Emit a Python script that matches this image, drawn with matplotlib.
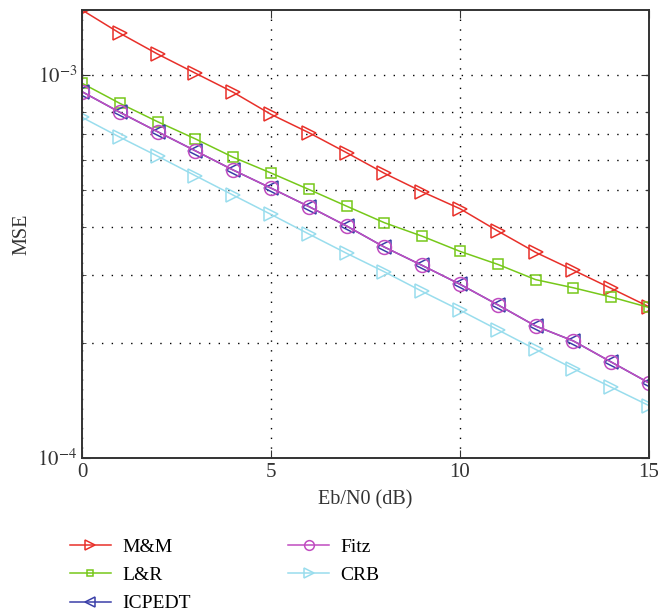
import numpy as np
import matplotlib
matplotlib.use('Agg')
import matplotlib.pyplot as plt
from matplotlib.ticker import FixedLocator, NullFormatter, FixedFormatter

plt.rcParams['font.family'] = ['Liberation Serif', 'DejaVu Serif']
plt.rcParams['mathtext.fontset'] = 'stix'

# Eb/N0 values (dB)
ebn0 = np.arange(0, 16)

# MSE curves
mse_mm = [1.475e-3, 1.283e-3, 1.132e-3, 1.009e-3, 9.00e-4, 7.88e-4, 7.06e-4, 6.26e-4,
          5.53e-4, 4.95e-4, 4.47e-4, 3.91e-4, 3.44e-4, 3.09e-4, 2.77e-4, 2.48e-4]
mse_lr = [9.50e-4, 8.42e-4, 7.54e-4, 6.80e-4, 6.09e-4, 5.54e-4, 5.02e-4, 4.54e-4,
          4.11e-4, 3.79e-4, 3.46e-4, 3.20e-4, 2.92e-4, 2.78e-4, 2.63e-4, 2.47e-4]
mse_icpedt = [9.03e-4, 7.98e-4, 7.10e-4, 6.33e-4, 5.64e-4, 5.06e-4, 4.53e-4, 4.03e-4,
              3.55e-4, 3.18e-4, 2.84e-4, 2.51e-4, 2.21e-4, 2.02e-4, 1.78e-4, 1.57e-4]
mse_fitz = [9.03e-4, 7.98e-4, 7.10e-4, 6.33e-4, 5.64e-4, 5.06e-4, 4.53e-4, 4.03e-4,
            3.55e-4, 3.18e-4, 2.84e-4, 2.51e-4, 2.21e-4, 2.02e-4, 1.78e-4, 1.57e-4]
mse_crb = [7.74e-4, 6.87e-4, 6.13e-4, 5.45e-4, 4.85e-4, 4.32e-4, 3.84e-4, 3.42e-4,
           3.06e-4, 2.72e-4, 2.43e-4, 2.16e-4, 1.92e-4, 1.71e-4, 1.53e-4, 1.37e-4]

fig = plt.figure(figsize=(6.58, 6.16), dpi=100)
ax = fig.add_axes([82/658, 1-458/616, (649-82)/658, (458-10)/616])

ax.plot(ebn0, mse_mm, color='#e8302a', lw=1.1, marker='>', ms=10, mfc='none', mew=1.1, label='M&M')
ax.plot(ebn0, mse_lr, color='#76c81a', lw=1.1, marker='s', ms=7, mfc='none', mew=1.1, label='L&R')
ax.plot(ebn0, mse_icpedt, color='#3a3fa8', lw=1.1, marker='<', ms=10, mfc='none', mew=1.1, label='ICPEDT')
ax.plot(ebn0, mse_fitz, color='#c04cc0', lw=1.1, marker='o', ms=10, mfc='none', mew=1.1, label='Fitz')
ax.plot(ebn0, mse_crb, color='#99dded', lw=1.1, marker='>', ms=10, mfc='none', mew=1.1, label='CRB')

ax.set_yscale('log')
ax.set_xlim(0, 15)
ax.set_ylim(1e-4, 1.475e-3)
ax.set_xticks([0, 5, 10, 15])
ax.yaxis.set_major_locator(FixedLocator([1e-4, 1e-3]))
ax.yaxis.set_major_formatter(FixedFormatter([r'$10^{-4}$', r'$10^{-3}$']))
ax.yaxis.set_minor_locator(FixedLocator([2e-4, 3e-4, 4e-4, 5e-4, 6e-4, 7e-4, 8e-4]))
ax.yaxis.set_minor_formatter(NullFormatter())

ax.grid(True, which='both', axis='y', color='k', linestyle=(0, (1, 6)), lw=1.0)
ax.grid(True, which='major', axis='x', color='k', linestyle=(0, (1, 6)), lw=1.0)
ax.tick_params(which='both', direction='in', top=True, right=True, colors='#333333',
               labelcolor='#333333', labelsize=15)
ax.tick_params(which='major', length=6)
ax.tick_params(which='minor', length=3)
for s in ax.spines.values():
    s.set_color('#333333')
    s.set_linewidth(1.4)

ax.set_xlabel('Eb/N0 (dB)', fontsize=14.5, color='#333333', labelpad=6)
ax.set_ylabel('MSE', fontsize=14.5, color='#333333', labelpad=4)

ax.legend(loc='upper left', bbox_to_anchor=(-0.052, -0.14), ncol=2, frameon=False,
          fontsize=14, handlelength=2.1, columnspacing=5.0, labelspacing=0.55,
          markerscale=0.7, handletextpad=0.6)

fig.savefig('out.png', dpi=100)
